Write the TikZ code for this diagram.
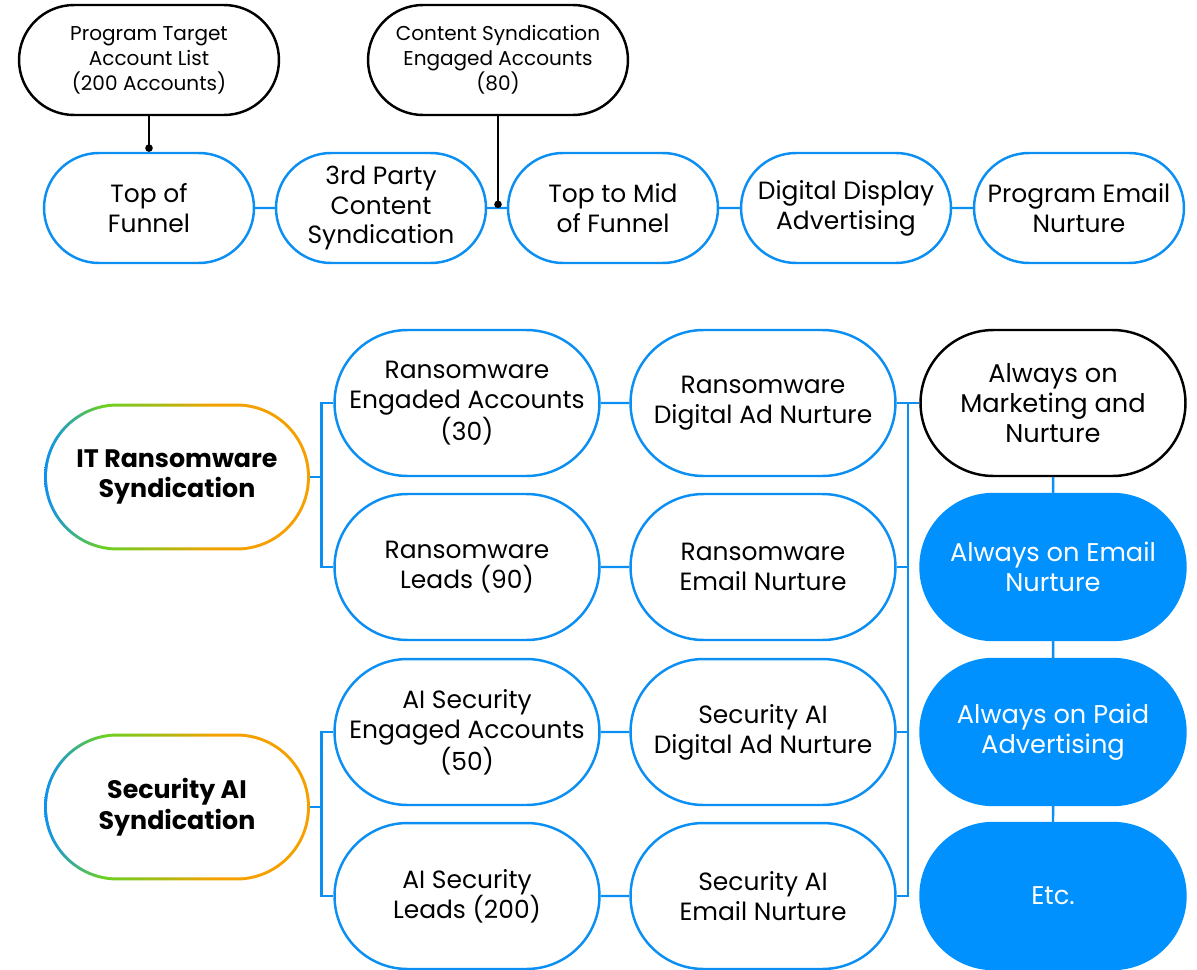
\documentclass[tikz,border=0pt]{standalone}
\usepackage{fontspec}
\setmainfont{Poppins}
\usetikzlibrary{shapes.misc, arrows.meta}

\definecolor{cblue}{RGB}{12,143,243}
\definecolor{cfill}{RGB}{0,145,255}
\definecolor{cgreen}{RGB}{105,208,35}
\definecolor{corange}{RGB}{246,160,0}
\pgfdeclarehorizontalshading{ringshade}{100bp}{color(0bp)=(cblue); color(25bp)=(cblue); color(36bp)=(cgreen); color(47bp)=(cgreen!55!corange); color(57bp)=(corange); color(100bp)=(corange)}

\tikzset{
  wire/.style={draw=cblue, line width=1.4pt},
  blkwire/.style={draw=black, line width=1.4pt, -{Circle[length=4.2pt]}},
  flowbox/.style={rounded rectangle, draw=cblue, line width=1.4pt, fill=white, inner sep=0pt,
    minimum width=4.2cm, minimum height=2.2cm, align=center, font=\fontsize{14.2}{17}\selectfont},
  listbox/.style={flowbox, draw=black, minimum width=5.2cm, minimum height=2.2cm,
    font=\fontsize{11.4}{14.2}\selectfont},
  midbox/.style={flowbox, minimum width=5.3cm, minimum height=2.92cm},
  alwaysbox/.style={midbox, draw=black, font=\fontsize{14.6}{17}\selectfont},
  fillbox/.style={alwaysbox, draw=cfill, fill=cfill, text=white},
  ringback/.style={rounded rectangle, draw=none, shade, shading=ringshade, inner sep=0pt,
    minimum width=5.32cm, minimum height=2.94cm},
  ringbox/.style={rounded rectangle, fill=white, inner sep=0pt, align=center,
    minimum width=5.2cm, minimum height=2.82cm, font=\bfseries\fontsize{14.4}{17.5}\selectfont}
}

\begin{document}
\begin{tikzpicture}[x=0.02cm, y=-0.02cm]
\useasboundingbox (0,0) rectangle (1197,970);

%top row
\node[flowbox] (tof) at (149,208) {Top of\\Funnel};
\node[flowbox] (tpcs) at (381,208) {3rd Party\\Content\\Syndication};
\node[flowbox] (tmf) at (613,208) {Top to Mid\\of Funnel};
\node[flowbox] (dda) at (846,208) {Digital Display\\Advertising};
\node[flowbox] (pen) at (1079,208) {Program Email\\Nurture};
\node[listbox] (ptal) at (149,60) {Program Target\\Account List\\(200 Accounts)};
\node[listbox] (csea) at (498,60) {Content Syndication\\Engaged Accounts\\(80)};

\draw[wire] (tof) -- (tpcs);
\draw[wire] (tpcs) -- coordinate (gap) (tmf);
\draw[wire] (tmf) -- (dda);
\draw[wire] (dda) -- (pen);
\draw[blkwire] (ptal.south) -- (tof.north);
\draw[blkwire] (csea.south) -- (csea.south |- gap);

%syndication tracks
\node[ringback] (itrback) at (177,477) {};
\node[ringbox] (itr) at (177,477) {IT Ransomware\\Syndication};
\node[ringback] (saiback) at (177,807) {};
\node[ringbox] (sai) at (177,807) {Security AI\\Syndication};

\node[midbox] (rea) at (467,403) {Ransomware\\Engaded Accounts\\(30)};
\node[midbox] (rl) at (467,567) {Ransomware\\Leads (90)};
\node[midbox] (aea) at (467,732) {AI Security\\Engaged Accounts\\(50)};
\node[midbox] (al) at (467,896) {AI Security\\Leads (200)};

\node[midbox] (rdn) at (763,403) {Ransomware\\Digital Ad Nurture};
\node[midbox] (ren) at (763,567) {Ransomware\\Email Nurture};
\node[midbox] (sdn) at (763,732) {Security AI\\Digital Ad Nurture};
\node[midbox] (sen) at (763,896) {Security AI\\Email Nurture};

\node[alwaysbox] (aom) at (1053,403) {Always on\\Marketing and\\Nurture};
\node[fillbox] (aen) at (1053,567) {Always on Email\\Nurture};
\node[fillbox] (apa) at (1053,732) {Always on Paid\\Advertising};
\node[fillbox] (etc) at (1053,896) {Etc.};

%brackets
\draw[wire] (rea.west) -- ++(-12,0) coordinate (k1) |- (rl.west);
\draw[wire] (itrback.east) -- (itrback.east -| k1);
\draw[wire] (aea.west) -- ++(-12,0) coordinate (k2) |- (al.west);
\draw[wire] (saiback.east) -- (saiback.east -| k2);

\draw[wire] (rea) -- (rdn);
\draw[wire] (rl) -- (ren);
\draw[wire] (aea) -- (sdn);
\draw[wire] (al) -- (sen);

%bus to always on
\draw[wire] (rdn.east) -- coordinate (k3) (aom.west);
\draw[wire] (k3) |- (sen.east);
\draw[wire] (ren.east) -- (ren.east -| k3);
\draw[wire] (sdn.east) -- (sdn.east -| k3);

\draw[wire] (aom) -- (aen);
\draw[wire] (aen) -- (apa);
\draw[wire] (apa) -- (etc);

\end{tikzpicture}
\end{document}
